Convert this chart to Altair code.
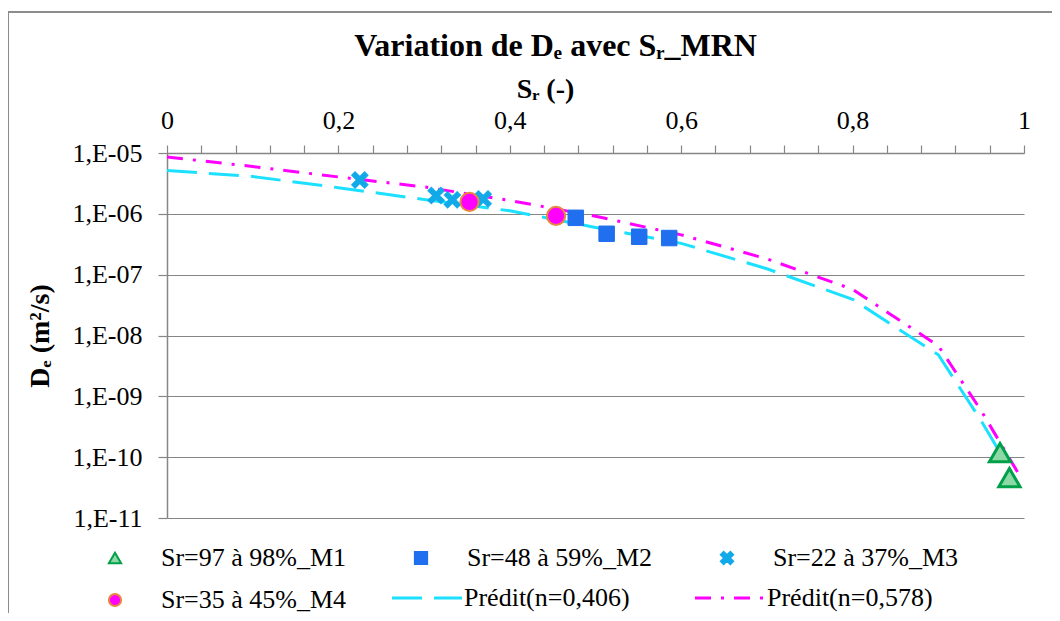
import altair as alt
import pandas as pd

# ---- measured series (Sr in -, De in m2/s) ----
m1_sr = [0.972, 0.983]
m1_de = [1.19e-10, 4.6e-11]
m2_sr = [0.477, 0.513, 0.551, 0.586]
m2_de = [8.6e-7, 4.7e-7, 4.2e-7, 4.0e-7]
m3_sr = [0.225, 0.314, 0.333, 0.369]
m3_de = [3.6e-6, 2.0e-6, 1.7e-6, 1.76e-6]
m4_sr = [0.353, 0.454]
m4_de = [1.57e-6, 9.25e-7]

# ---- predicted curves ----
p1_sr = [0.0, 0.1, 0.2, 0.3, 0.4, 0.5, 0.6, 0.7, 0.8, 0.9, 0.95, 0.97]
p1_de = [5.16e-6, 4.11e-6, 2.69e-6, 1.72e-6, 1.12e-6, 5.98e-7, 3.27e-7,
         1.25e-7, 3.93e-8, 4.82e-9, 3.97e-10, 1.33e-10]
p2_sr = [0.0, 0.1, 0.2, 0.3, 0.4, 0.5, 0.6, 0.7, 0.8, 0.9, 0.95, 0.995]
p2_de = [8.59e-6, 6.0e-6, 4.04e-6, 2.77e-6, 1.66e-6, 9.14e-7, 4.51e-7,
         1.82e-7, 5.74e-8, 6.78e-9, 5.81e-10, 4.97e-11]

point_names = ["Sr=97 à 98%_M1", "Sr=48 à 59%_M2", "Sr=22 à 37%_M3", "Sr=35 à 45%_M4"]
line_names = ["Prédit(n=0,406)", "Prédit(n=0,578)"]

x_ticks = [0.0, 0.04, 0.08, 0.12, 0.16, 0.2, 0.24, 0.28, 0.32, 0.36, 0.4, 0.44,
           0.48, 0.52, 0.56, 0.6, 0.64, 0.68, 0.72, 0.76, 0.8, 0.84, 0.88, 0.92,
           0.96, 1.0]
y_ticks = [1e-5, 1e-6, 1e-7, 1e-8, 1e-9, 1e-10, 1e-11]

X_PATH = ("M-1,-0.55L-0.55,-1L0,-0.45L0.55,-1L1,-0.55L0.45,0L1,0.55L0.55,1"
          "L0,0.45L-0.55,1L-1,0.55L-0.45,0Z")
LINE_SYMBOL = "M-5,0H5"

pt_fill = ["#8CD9A6", "#1F6FEF", "#12A9E9", "#FF00FF"]
pt_stroke = ["#00A04A", "#1F6FEF", "#12A9E9", "#E8873F"]
pt_shape = ["triangle-up", "square", X_PATH, "circle"]
pt_size = [450, 240, 300, 330]
pt_sw = [3, 1, 0.5, 2]

# ---- tables ----
pts = pd.DataFrame({
    "Sr": m1_sr + m2_sr + m3_sr + m4_sr,
    "De": m1_de + m2_de + m3_de + m4_de,
    "essai": [point_names[0]] * len(m1_sr) + [point_names[1]] * len(m2_sr)
    + [point_names[2]] * len(m3_sr) + [point_names[3]] * len(m4_sr),
})
lines = pd.DataFrame({
    "Sr": p1_sr + p2_sr,
    "De": p1_de + p2_de,
    "modele": [line_names[0]] * len(p1_sr) + [line_names[1]] * len(p2_sr),
})

FONT = "Liberation Serif"
GRAY = "#868686"

x_enc = alt.X(
    "Sr:Q",
    scale=alt.Scale(domain=[0, 1], nice=False, zero=False),
    axis=alt.Axis(
        orient="top", values=x_ticks, grid=False,
        labelExpr="abs(datum.value*5 - round(datum.value*5)) < 0.000001 ? replace(format(datum.value, '~g'), '.', ',') : ''",
        tickSize=8, labelPadding=17, labelBaseline="alphabetic",
        title="Sᵣ (-)", titleX=378, titleY=-56, titleBaseline="alphabetic",
        titleAlign="center", labelFlush=False, labelOverlap=False,
    ),
)
y_enc = alt.Y(
    "De:Q",
    scale=alt.Scale(type="log", domain=[1e-11, 1e-5], nice=False),
    axis=alt.Axis(
        values=y_ticks, grid=True,
        labelExpr="'1,E-' + (round(-log(datum.value)/LN10) < 10 ? '0' : '') + round(-log(datum.value)/LN10)",
        tickSize=9, labelPadding=16,
        title="Dₑ (m²/s)", titleX=-127, titleY=182.5, titleAngle=270,
        titleBaseline="middle", titleAlign="center", labelOverlap=False,
    ),
)

pt_legend = alt.Legend(
    orient="none", legendX=-65, legendY=392, columns=3, direction="horizontal",
    title=None, labelFontSize=26, labelFont=FONT, labelColor="black", symbolSize=150,
    symbolStrokeWidth=2, labelOffset=33, columnPadding=61, rowPadding=16,
    labelLimit=400,
)
ln_legend = alt.Legend(
    orient="none", legendX=247, legendY=432, columns=2, direction="horizontal",
    title=None, labelFontSize=26, labelFont=FONT, labelColor="black",
    symbolType=LINE_SYMBOL, symbolSize=196, symbolStrokeWidth=3, labelOffset=24,
    columnPadding=59, labelLimit=400,
)

frame = alt.Chart(pd.DataFrame({"k": [0]})).mark_rect(
    filled=False, stroke="#8c8c8c", strokeWidth=2, clip=False
).encode(x=alt.value(-159), x2=alt.value(1000), y=alt.value(-141), y2=alt.value(600))

line_layer = alt.Chart(lines).mark_line(strokeWidth=3, clip=False).encode(
    x=x_enc, y=y_enc,
    color=alt.Color("modele:N", scale=alt.Scale(domain=line_names, range=["#1CE0FF", "#FF00FF"]),
                    legend=ln_legend),
    strokeDash=alt.StrokeDash("modele:N",
                              scale=alt.Scale(domain=line_names, range=[[30, 12], [16, 10, 3, 10]]),
                              legend=ln_legend),
)

pt_layers = []
for i, name in enumerate(point_names):
    pt_layers.append(
        alt.Chart(pts).transform_filter(alt.datum.essai == name)
        .mark_point(filled=True, opacity=1, size=pt_size[i], strokeWidth=pt_sw[i])
        .encode(
            x=x_enc, y=y_enc,
            fill=alt.Fill("essai:N", scale=alt.Scale(domain=point_names, range=pt_fill),
                          legend=pt_legend),
            stroke=alt.Stroke("essai:N", scale=alt.Scale(domain=point_names, range=pt_stroke),
                              legend=pt_legend),
            shape=alt.Shape("essai:N", scale=alt.Scale(domain=point_names, range=pt_shape),
                            legend=pt_legend),
        )
    )

chart = alt.layer(frame, line_layer, *pt_layers).properties(
    width=857, height=365,
    title=alt.TitleParams(
        text="Variation de Dₑ avec Sᵣ_MRN", font=FONT, fontSize=32, fontWeight="bold",
        color="black", anchor="middle", dx=-40, dy=60, offset=8,
    ),
    autosize=alt.AutoSizeParams(type="none"),
    padding={"left": 159, "top": 145, "right": 28, "bottom": 95},
).configure(font=FONT, background="white").configure_axis(
    labelFont=FONT, labelFontSize=26, labelColor="black",
    titleFont=FONT, titleFontSize=28, titleFontWeight="bold", titleColor="black",
    domainColor=GRAY, tickColor=GRAY, gridColor=GRAY, domainWidth=1.5, gridWidth=1.2,
    tickWidth=1.2,
).configure_legend(labelFont=FONT).configure_title(font=FONT).configure_view(strokeWidth=0)

chart.save("out.html", embed_options={"renderer": "svg", "actions": False})
